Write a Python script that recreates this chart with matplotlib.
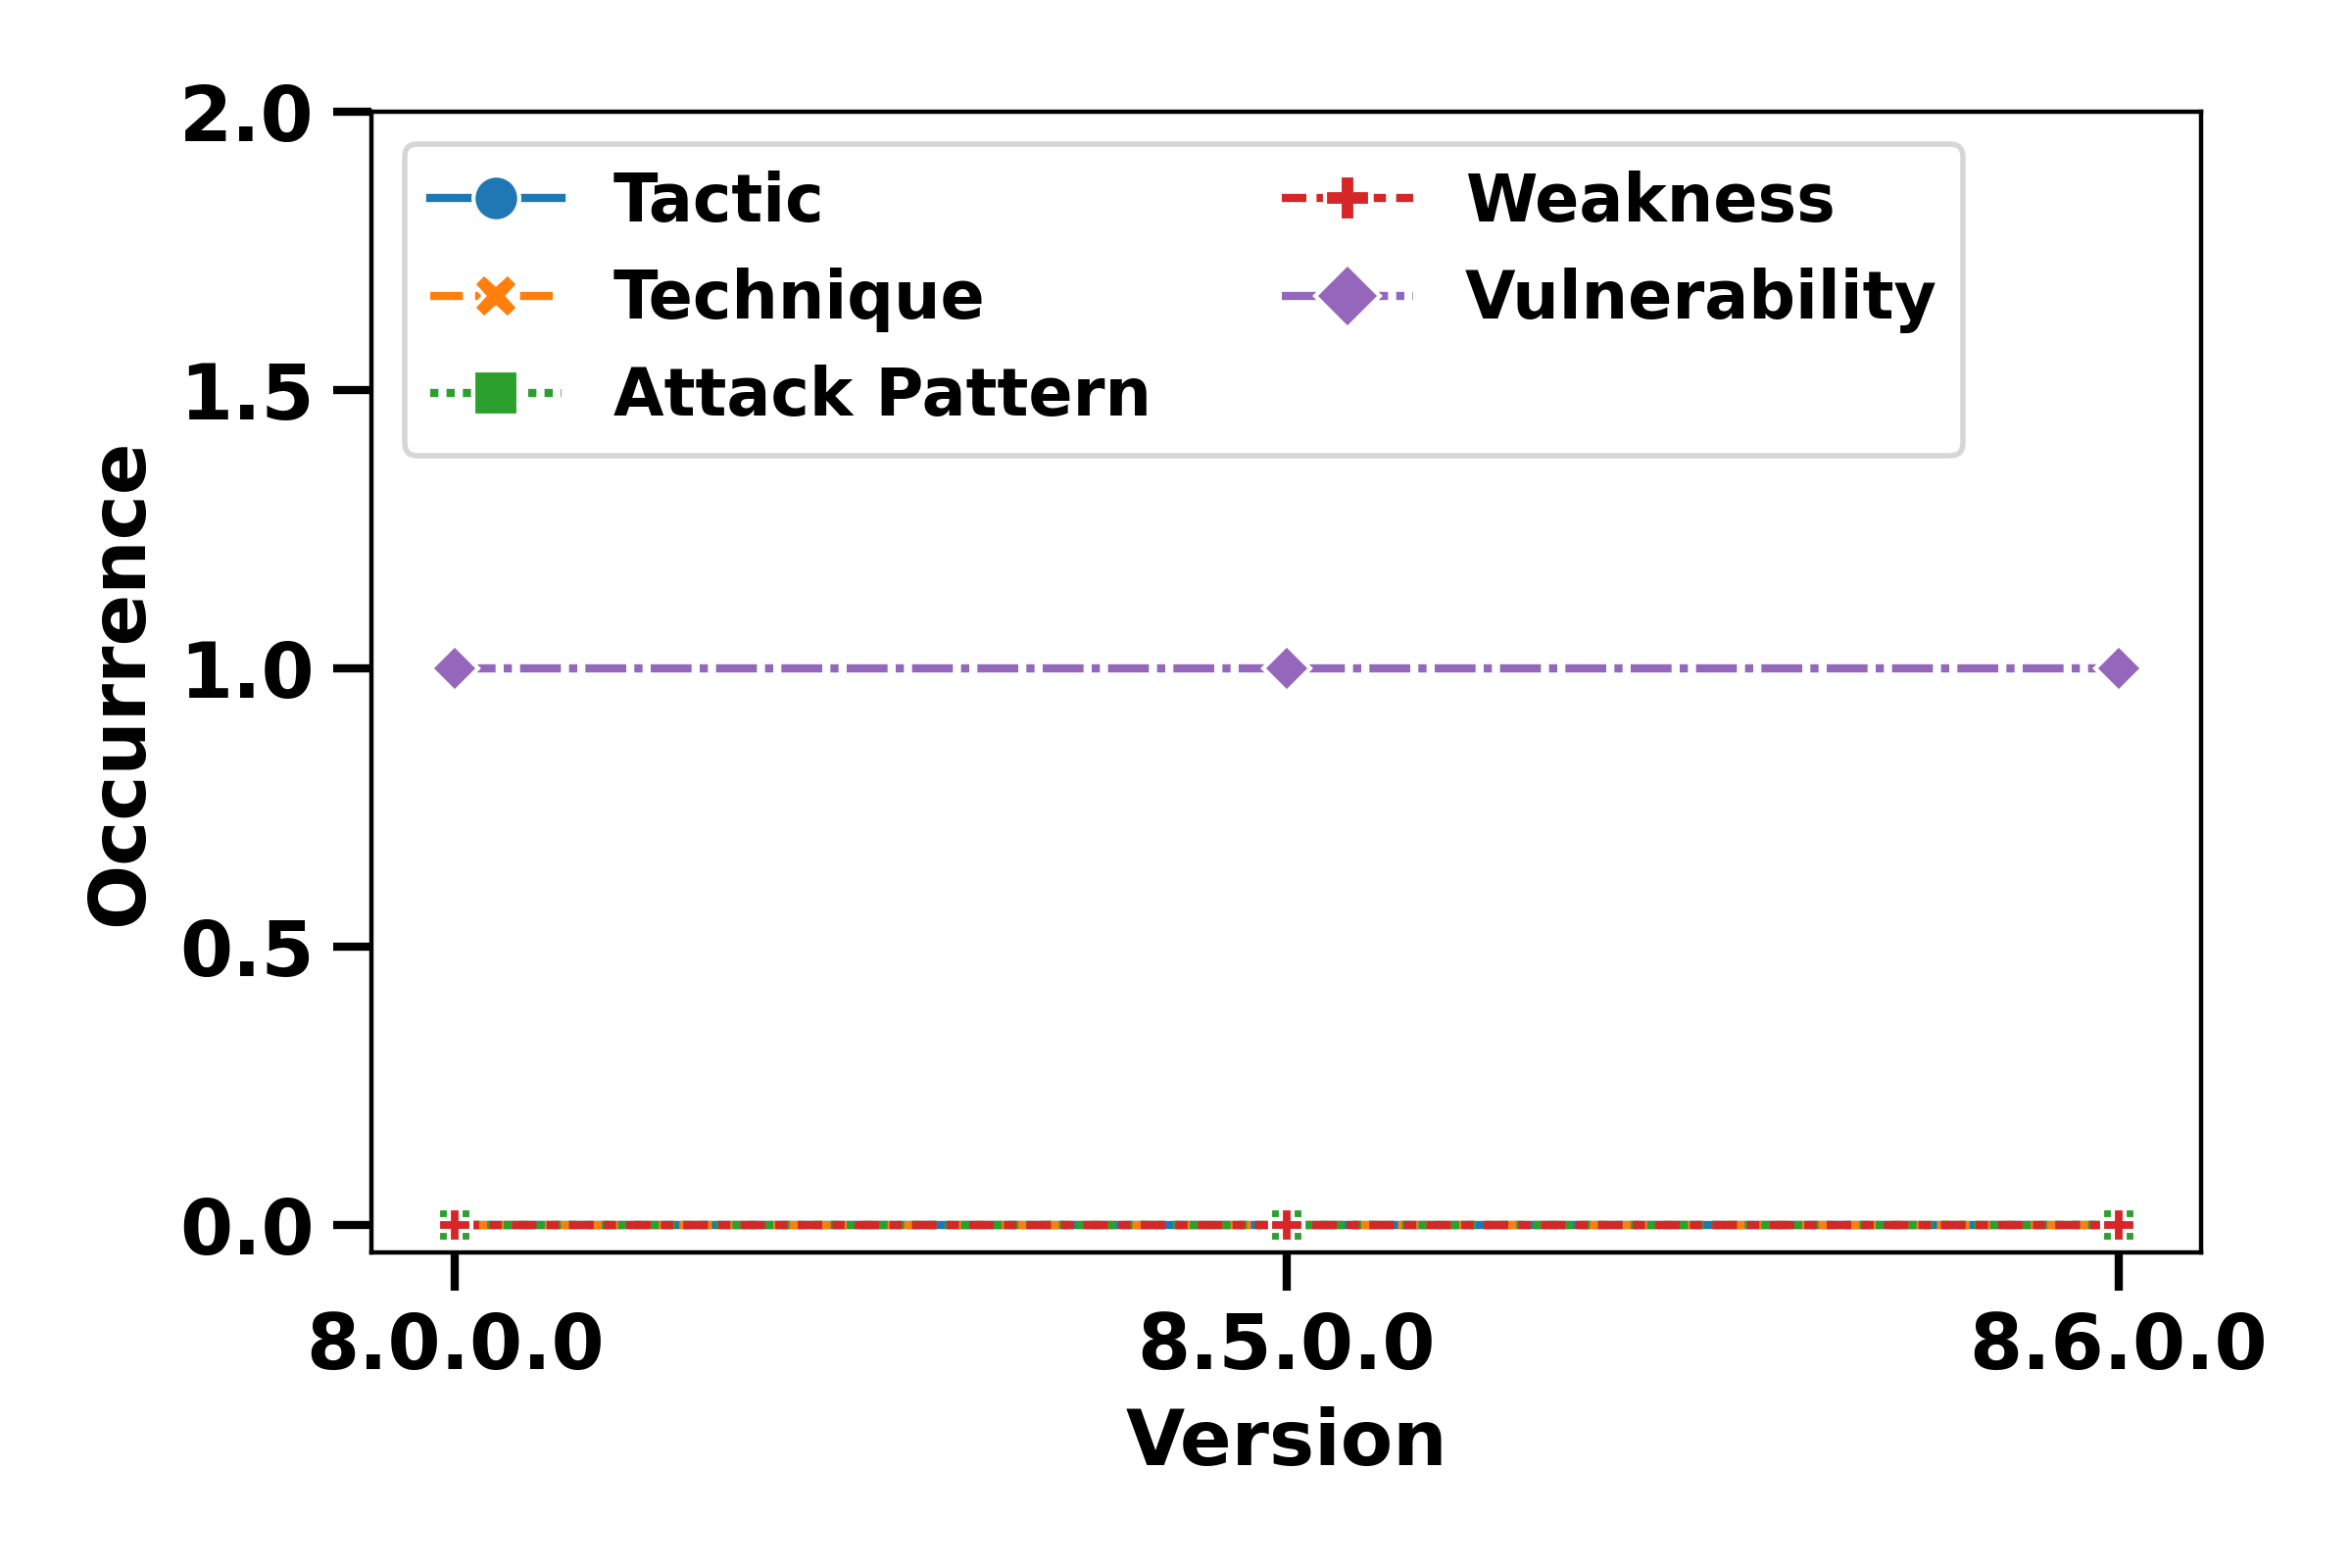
import matplotlib
matplotlib.use("Agg")
import matplotlib.pyplot as plt
import numpy as np

# data
versions = ["8.0.0.0", "8.5.0.0", "8.6.0.0"]
tactic = [0, 0, 0]
technique = [0, 0, 0]
attack_pattern = [0, 0, 0]
weakness = [0, 0, 0]
vulnerability = [1, 1, 1]

series = [
    ("Tactic", tactic, "#1f77b4", "o", (None, None)),
    ("Technique", technique, "#ff7f0e", "X", (4, 1.5)),
    ("Attack Pattern", attack_pattern, "#2ca02c", "s", (1, 1)),
    ("Weakness", weakness, "#d62728", "P", (3, 1.25, 1.5, 1.25)),
    ("Vulnerability", vulnerability, "#9467bd", "D", (5, 1, 1, 1)),
]

plt.rcParams["font.family"] = "DejaVu Sans"
plt.rcParams["font.weight"] = "bold"

fig, ax = plt.subplots(figsize=(6, 4), dpi=400)
fig.subplots_adjust(left=0.158, right=0.936, top=0.929, bottom=0.201)

x = np.arange(len(versions))
for name, vals, col, mk, dash in series:
    line, = ax.plot(x, vals, color=col, marker=mk, markersize=6, lw=1.5,
                    markeredgecolor="w", markeredgewidth=0.75, label=name)
    if dash[0] is not None:
        line.set_dashes(dash)

ax.set_xticks(x)
ax.set_xticklabels(versions)
ax.set_xlim(-0.1, 2.1)
ax.set_ylim(-0.05, 2.0)
ax.set_yticks([0, 0.5, 1.0, 1.5, 2.0])
ax.tick_params(axis="both", labelsize=14, length=7, width=1.5)
for lab in ax.get_xticklabels() + ax.get_yticklabels():
    lab.set_fontweight("bold")

ax.set_xlabel("Version", fontsize=14, fontweight="bold", labelpad=4)
ax.set_ylabel("Occurrence", fontsize=14, fontweight="bold")

ax.legend(loc="upper left", ncol=2, prop={"size": 12, "weight": "bold"},
          markerscale=1.4)

plt.savefig("out.png")
